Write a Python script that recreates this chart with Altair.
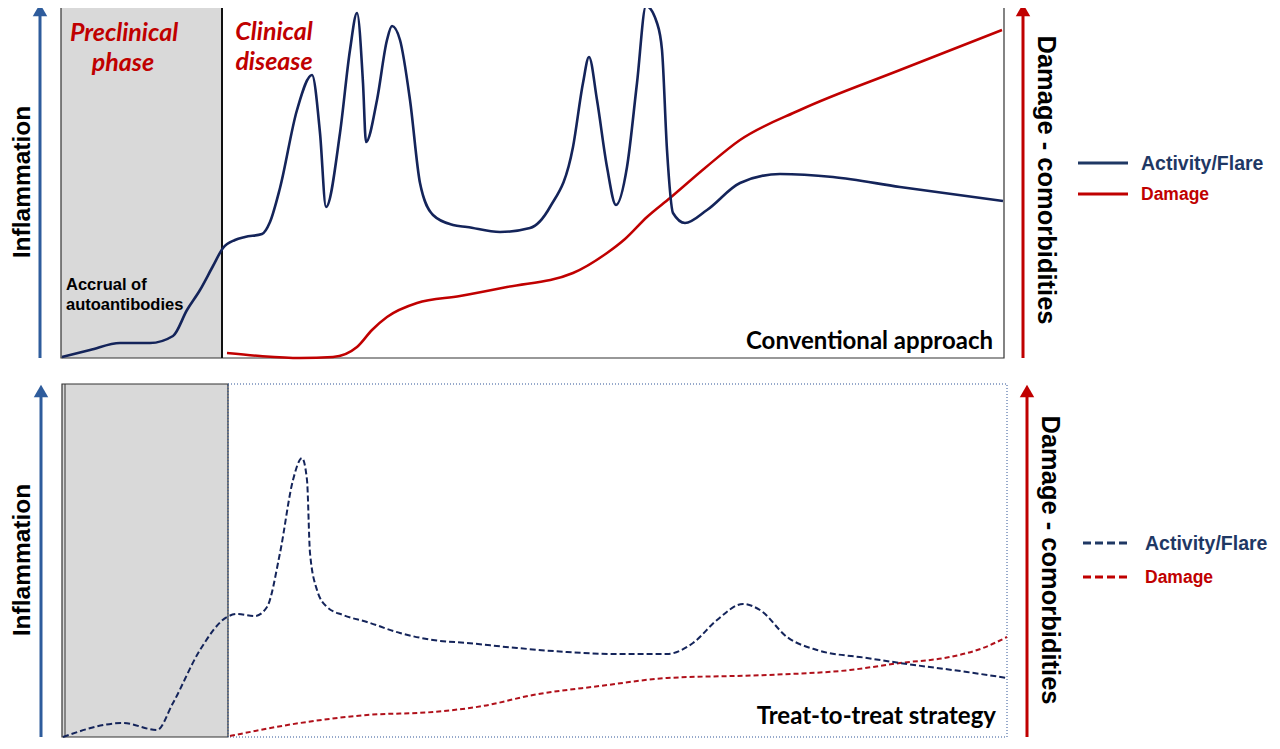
import altair as alt
import pandas as pd

# ---------------- data (in picture coordinates) ----------------
# Top panel: conventional approach
top_act_x = [62, 90, 120, 150, 173, 187, 200, 213, 223, 235, 245, 262, 270, 280, 297, 312, 320, 326,
             340, 350, 357, 363, 366, 377, 387, 392, 400, 410, 420, 433, 453, 467, 500, 530, 550, 573,
             583, 589, 597, 607, 616, 627, 637, 646, 657, 662, 667, 673, 685, 707, 740, 780, 833, 900, 1003]
top_act_y = [357, 350, 343, 343, 336, 310, 290, 266, 248, 240, 237, 234, 222, 188, 110, 75, 133, 207,
             133, 50, 13, 83, 142, 100, 40, 26, 40, 100, 183, 215, 225, 227, 232, 228, 207, 147,
             83, 57, 100, 167, 205, 167, 83, 6, 23, 50, 150, 213, 223, 210, 183, 174, 177, 187, 201]

top_dmg_x = [227, 260, 300, 333, 357, 372, 387, 417, 460, 507, 573, 607, 625, 647, 670, 705, 740, 800, 900, 1002]
top_dmg_y = [353, 356, 358, 357, 347, 330, 317, 303, 296, 287, 273, 253, 239, 217, 198, 168, 140, 110, 70, 30]

# Bottom panel: treat-to-target strategy
bot_act_x = [63, 123, 157, 173, 200, 227, 237, 255, 267, 280, 293, 302, 307, 310, 317, 327, 343, 367,
             400, 433, 467, 517, 567, 617, 667, 693, 717, 743, 760, 787, 817, 867, 900, 967, 1007]
bot_act_y = [737, 723, 730, 703, 650, 617, 614, 616, 607, 553, 480, 458, 480, 553, 590, 607, 615, 622,
             633, 640, 643, 648, 652, 654, 654, 643, 620, 604, 610, 637, 650, 658, 663, 672, 678]

bot_dmg_x = [230, 300, 367, 433, 483, 533, 600, 667, 767, 850, 900, 950, 983, 1007]
bot_dmg_y = [736, 723, 715, 712, 706, 695, 686, 678, 675, 670, 663, 657, 648, 637]

# Labels
series_names = ["Activity/Flare", "Damage"]
y_axis_label = "Inflammation"
y2_axis_label = "Damage - comorbidities"

NAVY = "#14245a"
NAVY_TXT = "#1f3864"
RED = "#c00000"
BLUE_ARROW = "#2e5c9c"
GRAY = "#d9d9d9"

X = alt.Scale(domain=[8, 1272], nice=False, zero=False)
Y = alt.Scale(domain=[8, 741], nice=False, zero=False, reverse=True)


def enc(**kw):
    base = dict(x=alt.X("x:Q", scale=X, axis=None), y=alt.Y("y:Q", scale=Y, axis=None))
    base.update(kw)
    return base


def line(xs, ys, color, width, dash=None):
    df = pd.DataFrame({"x": xs, "y": ys, "o": range(len(xs))})
    kw = dict(color=color, strokeWidth=width, interpolate="monotone", clip=False)
    if dash:
        kw["strokeDash"] = dash
    return alt.Chart(df).mark_line(**kw).encode(**enc(order="o:Q"))


def rect(x1, x2, y1, y2, **kw):
    df = pd.DataFrame({"x": [x1], "x2": [x2], "y": [y1], "y2": [y2]})
    return alt.Chart(df).mark_rect(**kw).encode(**enc(x2="x2:Q", y2="y2:Q"))


def seg(x1, y1, x2, y2, color, width, dash=None):
    df = pd.DataFrame({"x": [x1, x2], "y": [y1, y2]})
    kw = dict(color=color, strokeWidth=width)
    if dash:
        kw["strokeDash"] = dash
    return alt.Chart(df).mark_line(**kw).encode(**enc())


def tri(x, y, color):
    df = pd.DataFrame({"x": [x], "y": [y]})
    return alt.Chart(df).mark_point(shape="triangle-up", filled=True, size=210, color=color, opacity=1).encode(**enc())


def text(rows, **kw):
    df = pd.DataFrame(rows, columns=["t", "x", "y"])
    return alt.Chart(df).mark_text(**kw).encode(**enc(text="t:N"))


layers = []

# ---- top panel frame ----
layers.append(rect(61, 222, 6, 358, fill=GRAY))
layers.append(rect(61, 1004, 6, 358, fill=None, stroke="#333333", strokeWidth=1.2))
layers.append(seg(222, 6, 222, 358, "#111111", 2))

# ---- bottom panel frame ----
layers.append(rect(62, 228, 384, 737, fill=GRAY, stroke="#333333", strokeWidth=1.2))
layers.append(seg(65, 384, 65, 737, "#333333", 1))
layers.append(rect(228, 1007, 384, 737, fill=None, stroke="#2f5597", strokeWidth=1, strokeDash=[1, 2]))

# ---- arrows ----
layers += [seg(40, 358, 40, 14, BLUE_ARROW, 3), tri(40, 10, BLUE_ARROW)]
layers += [seg(1023, 358, 1023, 14, RED, 3), tri(1023, 10, RED)]
layers += [seg(41, 737, 41, 395, BLUE_ARROW, 3), tri(41, 391, BLUE_ARROW)]
layers += [seg(1027, 737, 1027, 395, RED, 3), tri(1027, 391, RED)]

# ---- curves ----
layers.append(line(top_dmg_x, top_dmg_y, RED, 2.5))
layers.append(line(top_act_x, top_act_y, NAVY, 2.6))
layers.append(line(bot_dmg_x, bot_dmg_y, "#b0101a", 2, dash=[5, 3]))
layers.append(line(bot_act_x, bot_act_y, NAVY, 2, dash=[6, 3]))

# ---- legends ----
layers.append(seg(1078, 163, 1128, 163, NAVY_TXT, 3))
layers.append(seg(1078, 194, 1128, 194, RED, 3))
layers.append(seg(1083, 543, 1130, 543, NAVY_TXT, 3, dash=[8, 4]))
layers.append(seg(1083, 577, 1130, 577, RED, 3, dash=[8, 4]))
layers.append(text([[series_names[0], 1141, 164], [series_names[0], 1145, 544]],
                   align="left", baseline="middle", font="Liberation Sans", fontWeight="bold",
                   fontSize=19.5, color=NAVY_TXT))
layers.append(text([[series_names[1], 1141, 195], [series_names[1], 1145, 578]],
                   align="left", baseline="middle", font="Liberation Sans", fontWeight="bold",
                   fontSize=17.5, color=RED))

# ---- axis labels ----
layers.append(text([[y_axis_label, 23, 182], [y_axis_label, 23, 560]],
                   angle=270, align="center", baseline="middle", font="Liberation Sans",
                   fontWeight="bold", fontSize=24.5, color="#000000"))
layers.append(text([[y2_axis_label, 1046, 180], [y2_axis_label, 1050, 560]],
                   angle=90, align="center", baseline="middle", font="Liberation Sans",
                   fontWeight="bold", fontSize=25.5, color="#000000"))

# ---- annotations ----
layers.append(text([["Preclinical", 124, 33], ["phase", 123, 63], ["Clinical", 274, 32], ["disease", 274, 62]],
                   align="center", baseline="middle", font="Lato", fontWeight="bold",
                   fontStyle="italic", fontSize=25, color=RED))
layers.append(text([["Accrual of", 66, 285], ["autoantibodies", 66, 305]],
                   align="left", baseline="middle", font="Liberation Sans", fontWeight="bold",
                   fontSize=16.5, color="#000000"))
layers.append(text([["Conventional approach", 993, 342], ["Treat-to-treat strategy", 996, 717]],
                   align="right", baseline="middle", font="Lato", fontWeight="bold",
                   fontSize=24, color="#000000"))

chart = alt.layer(*layers).properties(
    width=1264, height=733, padding=0, autosize=alt.AutoSizeParams(type="none"),
    background="white",
).configure_view(stroke=None)

chart.save("out.html", embed_options={"renderer": "svg", "actions": False})
